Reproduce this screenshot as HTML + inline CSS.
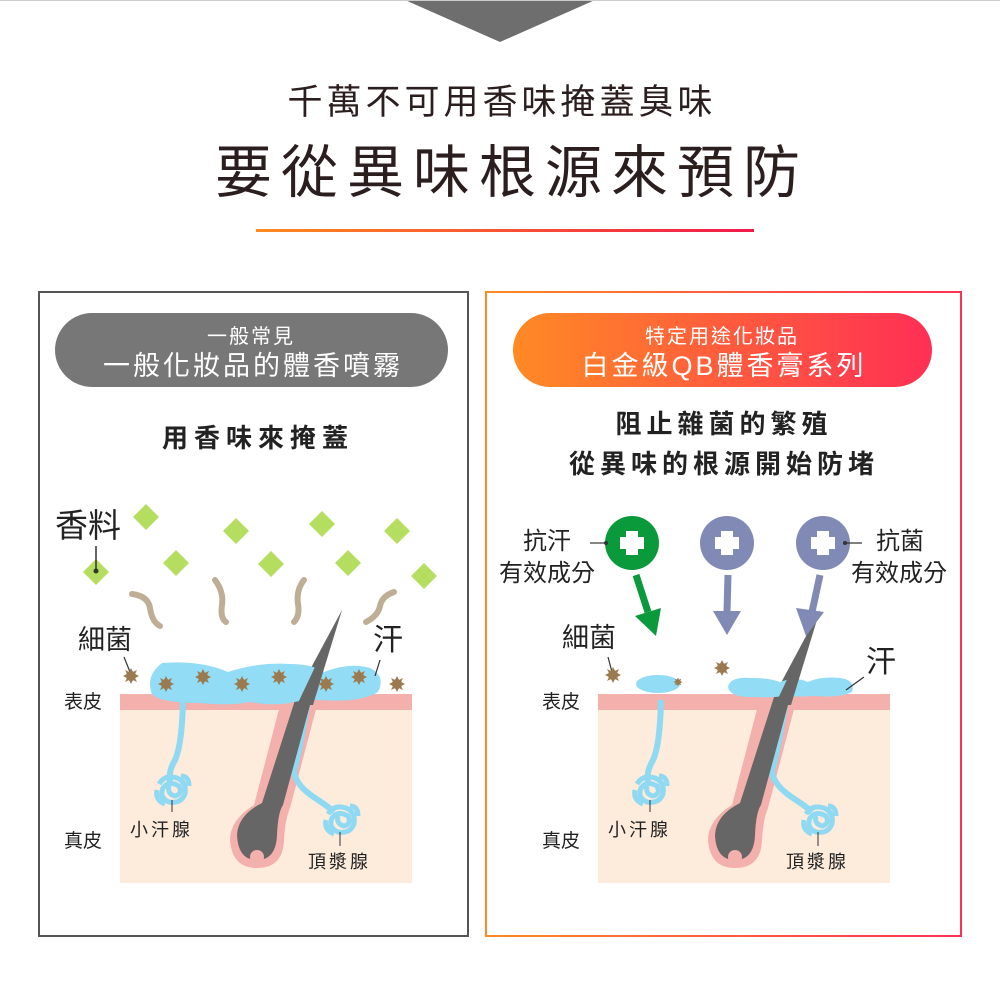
<!DOCTYPE html>
<html><head><meta charset="utf-8"><style>
html,body{margin:0;padding:0;background:#fff}
svg{display:block}
text{font-family:"Liberation Sans","Noto Sans CJK TC",sans-serif}
</style></head><body>
<svg width="1000" height="1000" viewBox="0 0 1000 1000" xmlns="http://www.w3.org/2000/svg">
<defs>
<linearGradient id="g1" x1="0" x2="1" y1="0" y2="0"><stop offset="0" stop-color="#ff8a1e"/><stop offset="1" stop-color="#f01a4a"/></linearGradient>
<linearGradient id="g2" x1="0" x2="1" y1="0" y2="0"><stop offset="0" stop-color="#ff8a24"/><stop offset="1" stop-color="#ff2f55"/></linearGradient>
<g id="bac"><circle r="5" fill="#9b7a50"/><polygon points="0,-8 2,-4 6,-6 4,-2 8,0 4,2 6,6 2,4 0,8 -2,4 -6,6 -4,2 -8,0 -4,-2 -6,-6 -2,-4" fill="#9b7a50"/></g>
<g id="dia"><polygon points="0,-13 13,0 0,13 -13,0" fill="#b5dd5f"/></g>
<g id="coil" fill="none" stroke="#8fd9f2" stroke-width="5">
<path d="M-14,-6 Q-8,-16 4,-12 Q14,-8 12,4 Q8,14 -4,12 Q-14,8 -10,-2 Q-4,-10 6,-4 Q10,4 2,6 Q-6,4 -4,-4"/>
<path d="M-16,0 Q-18,10 -8,14 M8,-14 Q16,-14 16,-4"/>
</g>
<g id="skin">
<rect x="120" y="694" width="292" height="16" fill="#f4b0ad"/>
<rect x="120" y="710" width="292" height="173" fill="#fdebdc"/>
<path d="M183,700 Q182,745 175,760 Q168,772 170,782" fill="none" stroke="#8fd9f2" stroke-width="6"/>
<use href="#coil" x="173" y="790"/>
<line x1="172" y1="800" x2="172" y2="812" stroke="#333" stroke-width="1"/>
<path d="M283,694 L254,805 Q230,820 230,840 Q232,868 257,868 Q283,868 284,840 Q285,820 290,808 L320,694 Z" fill="#f4b0ad"/>
<path d="M308,700 Q298,760 294,770 Q294,785 318,800 Q330,808 334,812" fill="none" stroke="#8fd9f2" stroke-width="6"/>
<use href="#coil" x="342" y="820"/>
<line x1="340" y1="832" x2="340" y2="846" stroke="#333" stroke-width="1"/>
<path d="M342,610 L313,694 L283,805 Q278,812 277,835 Q276,860 257,860 Q238,860 237,835 Q238,815 262,803 L297,694 Z" fill="#666"/>
<circle cx="257" cy="857" r="7" fill="#f4b0ad"/>
<text x="64" y="708" font-size="19" fill="#222">表皮</text>
<text x="64" y="847" font-size="19" fill="#222">真皮</text>
<text x="130" y="836" font-size="18" fill="#222" letter-spacing="3">小汗腺</text>
<text x="308" y="868" font-size="18" fill="#222" letter-spacing="3">頂漿腺</text>
</g>
</defs>

<polygon points="405,0 595,0 500,42" fill="#6e6e6e"/>
<line x1="0" y1="0.5" x2="1000" y2="0.5" stroke="#ccc" stroke-width="1"/>
<text x="502" y="114" font-size="35" fill="#2a1e1e" text-anchor="middle" letter-spacing="4">千萬不可用香味掩蓋臭味</text>
<text x="512" y="192" font-size="57" fill="#2a1e1e" text-anchor="middle" letter-spacing="9">要從異味根源來預防</text>
<rect x="256" y="229" width="498" height="3" fill="url(#g1)"/>

<rect x="39" y="292" width="429" height="644" fill="none" stroke="#555" stroke-width="2"/>
<rect x="55" y="313" width="393" height="74" rx="37" fill="#777"/>
<text x="251" y="343" font-size="20" fill="#fff" text-anchor="middle" letter-spacing="2">一般常見</text>
<text x="253" y="375" font-size="27" fill="#fff" text-anchor="middle" letter-spacing="3">一般化妝品的體香噴霧</text>
<text x="258" y="447" font-size="26" fill="#222" text-anchor="middle" font-weight="bold" letter-spacing="6">用香味來掩蓋</text>

<use href="#dia" x="146" y="517"/><use href="#dia" x="236" y="531"/><use href="#dia" x="322" y="524"/><use href="#dia" x="397" y="531"/>
<use href="#dia" x="96" y="572"/><use href="#dia" x="176" y="563"/><use href="#dia" x="271" y="564"/><use href="#dia" x="348" y="563"/><use href="#dia" x="424" y="576"/>
<g fill="none" stroke="#bfae96" stroke-width="6" stroke-linecap="round">
<path d="M132,594 Q148,596 150,608 Q152,622 160,626"/>
<path d="M215,580 Q224,592 222,605 Q220,618 226,622"/>
<path d="M304,580 Q296,590 298,604 Q300,616 294,622"/>
<path d="M394,592 Q382,596 380,606 Q378,616 366,622"/>
</g>
<text x="55" y="537" font-size="33" fill="#222">香料</text>
<line x1="96" y1="546" x2="96" y2="570" stroke="#333" stroke-width="1.5"/><circle cx="96" cy="571" r="2.5" fill="#333"/>

<use href="#skin"/>
<path d="M162,663 Q200,660 228,672 Q258,662 290,664 Q312,664 324,672 Q350,662 370,668 Q386,676 378,692 Q360,703 320,700 Q300,700 290,703 Q270,706 250,702 Q230,706 200,703 Q160,703 152,694 Q145,676 162,663 Z" fill="#93dcf5"/>
<path d="M297,705 L342,610 L313,705 Z" fill="#666"/>
<text x="78" y="649" font-size="27" fill="#222">細菌</text>
<line x1="124" y1="657" x2="130" y2="672" stroke="#333" stroke-width="1.2"/>
<text x="373" y="650" font-size="30" fill="#222">汗</text>
<line x1="380" y1="660" x2="375" y2="676" stroke="#333" stroke-width="1.2"/>
<use href="#bac" x="131" y="676"/><use href="#bac" x="166" y="684"/><use href="#bac" x="203" y="677"/><use href="#bac" x="242" y="684"/>
<use href="#bac" x="279" y="677"/><use href="#bac" x="326" y="684"/><use href="#bac" x="359" y="677"/><use href="#bac" x="397" y="684"/>

<rect x="486" y="292" width="475" height="644" fill="none" stroke="url(#g2)" stroke-width="2"/>
<rect x="513" y="313" width="419" height="74" rx="37" fill="url(#g2)"/>
<text x="722" y="343" font-size="20" fill="#fff" text-anchor="middle" letter-spacing="2">特定用途化妝品</text>
<text x="724" y="375" font-size="27" fill="#fff" text-anchor="middle" letter-spacing="3">白金級QB體香膏系列</text>
<text x="724" y="433" font-size="26" fill="#222" text-anchor="middle" font-weight="bold" letter-spacing="5">阻止雜菌的繁殖</text>
<text x="724" y="473" font-size="26" fill="#222" text-anchor="middle" font-weight="bold" letter-spacing="5">從異味的根源開始防堵</text>

<g transform="translate(478,0)"><use href="#skin"/></g>
<ellipse cx="658" cy="684" rx="22" ry="9" fill="#93dcf5"/>
<path d="M728,687 Q730,676 752,678 Q770,678 780,682 Q795,676 808,682 Q820,676 840,678 Q856,680 852,692 Q840,698 815,696 Q800,697 785,696 Q770,698 755,697 Q730,698 728,687 Z" fill="#93dcf5"/>
<path d="M775,705 L820,610 L791,705 Z" fill="#666"/>
<text x="562" y="647" font-size="27" fill="#222">細菌</text>
<line x1="608" y1="657" x2="612" y2="672" stroke="#333" stroke-width="1.2"/>
<use href="#bac" x="613" y="675"/><use href="#bac" x="722" y="668"/>
<g transform="translate(678,682) scale(0.55)"><use href="#bac"/></g>
<text x="866" y="672" font-size="30" fill="#222">汗</text>
<line x1="864" y1="677" x2="846" y2="690" stroke="#333" stroke-width="1.2"/>

<circle cx="632" cy="543" r="27" fill="#0a9a3c"/>
<circle cx="727" cy="543" r="27" fill="#8189b5"/>
<circle cx="823" cy="543" r="27" fill="#8189b5"/>
<g fill="#fff">
<rect x="626" y="531" width="12" height="24"/><rect x="620" y="537" width="24" height="12"/>
<rect x="721" y="531" width="12" height="24"/><rect x="715" y="537" width="24" height="12"/>
<rect x="817" y="531" width="12" height="24"/><rect x="811" y="537" width="24" height="12"/>
</g>
<line x1="636" y1="575" x2="648" y2="612" stroke="#0a9a3c" stroke-width="7"/>
<polygon points="635,616 661,608 656,636" fill="#0a9a3c"/>
<line x1="728" y1="575" x2="727" y2="612" stroke="#8189b5" stroke-width="7"/>
<polygon points="713,611 741,611 727,635" fill="#8189b5"/>
<line x1="820" y1="575" x2="812" y2="612" stroke="#8189b5" stroke-width="7"/>
<polygon points="796,608 824,612 806,636" fill="#8189b5"/>
<text x="523" y="549" font-size="24" fill="#222">抗汗</text>
<text x="499" y="581" font-size="24" fill="#222">有效成分</text>
<line x1="590" y1="543" x2="606" y2="543" stroke="#333" stroke-width="1.2"/><circle cx="606" cy="543" r="2" fill="#333"/>
<text x="876" y="549" font-size="24" fill="#222">抗菌</text>
<text x="851" y="581" font-size="24" fill="#222">有效成分</text>
<line x1="845" y1="543" x2="862" y2="543" stroke="#333" stroke-width="1.2"/><circle cx="845" cy="543" r="2" fill="#333"/>
</svg>
</body></html>
